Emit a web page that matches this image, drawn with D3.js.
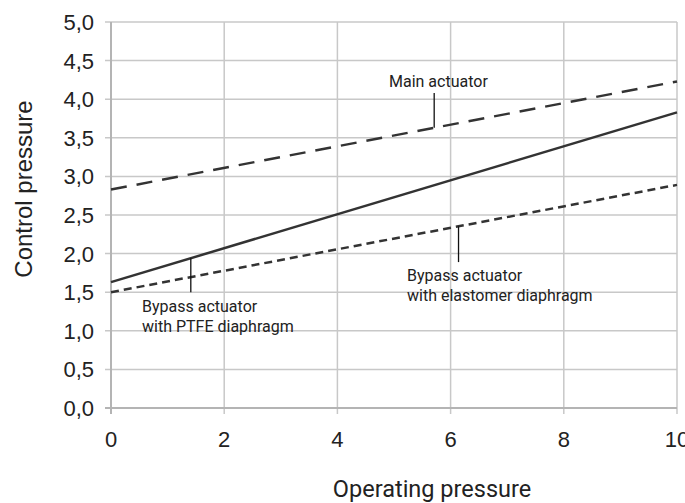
<!DOCTYPE html>
<html><head><meta charset="utf-8">
<script src="https://cdn.jsdelivr.net/npm/d3@7"></script>
<style>body{margin:0;background:#fff}svg{display:block}</style>
</head><body>
<svg id="c" width="685" height="503"></svg>
<script>
const xs = [0, 10];
const ptfe = [1.63, 3.83];
const mainAct = [2.83, 4.23];
const elast = [1.50, 2.89];
const xTicks = [0, 2, 4, 6, 8, 10];
const yTicks = [0, 0.5, 1, 1.5, 2, 2.5, 3, 3.5, 4, 4.5, 5];

const svg = d3.select("#c");
const x = d3.scaleLinear().domain([0, 10]).range([111, 677]);
const y = d3.scaleLinear().domain([0, 5]).range([408, 22]);
const fmt = d => d3.format(".1f")(d).replace(".", ",");

// grid
svg.append("g").selectAll("line").data(xTicks.slice(1)).join("line")
  .attr("x1", d => x(d)).attr("x2", d => x(d)).attr("y1", y(5)).attr("y2", y(0) + 6)
  .attr("stroke", "#c8c8c8").attr("stroke-width", 1.5);
svg.append("g").selectAll("line").data(yTicks.slice(1)).join("line")
  .attr("x1", x(0) - 6).attr("x2", x(10)).attr("y1", d => y(d)).attr("y2", d => y(d))
  .attr("stroke", "#c8c8c8").attr("stroke-width", 1.5);
// axes
svg.append("line").attr("x1", x(0)).attr("x2", x(0)).attr("y1", y(5)).attr("y2", y(0) + 6)
  .attr("stroke", "#b4b4b4").attr("stroke-width", 2);
svg.append("line").attr("x1", x(0) - 6).attr("x2", x(10)).attr("y1", y(0)).attr("y2", y(0))
  .attr("stroke", "#b4b4b4").attr("stroke-width", 2);

// tick labels
svg.append("g").selectAll("text").data(yTicks).join("text")
  .attr("x", 94).attr("y", d => y(d)).attr("dy", "0.36em").attr("text-anchor", "end")
  .attr("font-family", "Liberation Sans, Arial, sans-serif").attr("font-size", 22).attr("fill", "#222")
  .text(fmt);
svg.append("g").selectAll("text").data(xTicks).join("text")
  .attr("x", d => x(d)).attr("y", 447).attr("text-anchor", "middle")
  .attr("font-family", "Liberation Sans, Arial, sans-serif").attr("font-size", 22).attr("fill", "#222")
  .text(d => d);

// axis titles
svg.append("text").attr("transform", "translate(32,189) rotate(-90)").attr("text-anchor", "middle")
  .attr("font-family", "Liberation Sans, Arial, sans-serif").attr("font-size", 24).attr("fill", "#222")
  .text("Control pressure");
svg.append("text").attr("x", 432).attr("y", 497).attr("text-anchor", "middle")
  .attr("font-family", "Roboto, sans-serif").attr("font-size", 23.5).attr("fill", "#222")
  .text("Operating pressure");

// series
const line = d3.line().x(d => x(d[0])).y(d => y(d[1]));
const series = [
  {v: ptfe, dash: null},
  {v: mainAct, dash: "16,10"},
  {v: elast, dash: "8,5"}
];
series.forEach(s => {
  svg.append("path").datum(xs.map((xx, i) => [xx, s.v[i]])).attr("d", line)
    .attr("fill", "none").attr("stroke", "#333").attr("stroke-width", 2.5)
    .attr("stroke-dasharray", s.dash);
});

// annotations
const interp = (arr, xv) => arr[0] + (arr[1] - arr[0]) * xv / 10;
const ann = [
  {xv: 5.71, from: 4.08, to: interp(mainAct, 5.71), lines: ["Main actuator"], tx: 389, ty: 87},
  {xv: 1.41, from: interp(ptfe, 1.41), to: 1.5, lines: ["Bypass actuator", "with PTFE diaphragm"], tx: 142, ty: 312},
  {xv: 6.14, from: interp(elast, 6.14), to: 1.89, lines: ["Bypass actuator", "with elastomer diaphragm"], tx: 407, ty: 281}
];
ann.forEach(a => {
  svg.append("line").attr("x1", x(a.xv)).attr("x2", x(a.xv)).attr("y1", y(a.from)).attr("y2", y(a.to))
    .attr("stroke", "#111").attr("stroke-width", 1.3);
  const t = svg.append("text").attr("font-family", "Roboto, sans-serif").attr("font-size", 16).attr("fill", "#222");
  a.lines.forEach((l, i) => t.append("tspan").attr("x", a.tx).attr("y", a.ty + i * 20).text(l));
});
</script>
</body></html>
